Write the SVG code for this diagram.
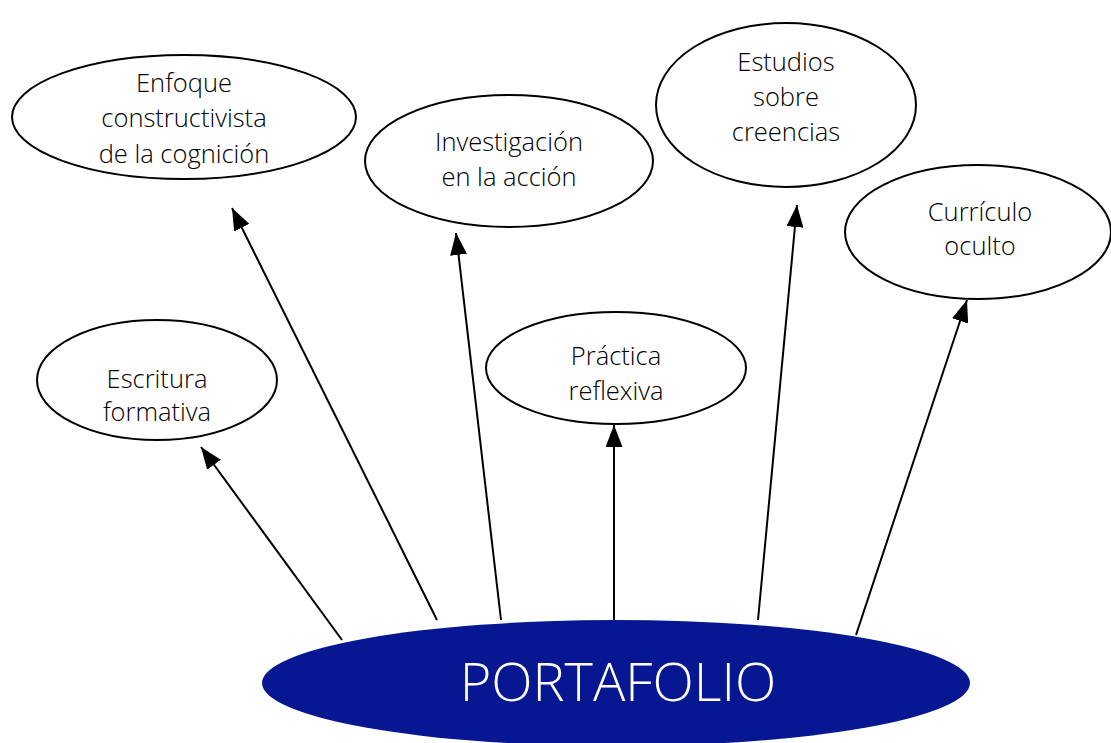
<svg xmlns="http://www.w3.org/2000/svg" width="1111" height="743" viewBox="0 0 1111 743">
<style>
.n{fill:#fff;stroke:#000;stroke-width:2}
.t{font-family:"Open Sans","DejaVu Sans",sans-serif;font-size:25.5px;font-weight:300;fill:#000;text-anchor:middle}
.c{stroke:#000;stroke-width:2;fill:none;marker-end:url(#ah)}
</style>
<defs>
<marker id="ah" viewBox="0 0 22 17" refX="22" refY="8.5" markerWidth="11" markerHeight="8.5" orient="auto" markerUnits="strokeWidth">
<path d="M0,0 L22,8.5 L0,17 z" fill="#000"/>
</marker>
</defs>
<rect width="1111" height="743" fill="#fff"/>
<g id="connectors">
<line class="c" x1="342" y1="640" x2="201" y2="447"/>
<line class="c" x1="437" y1="620" x2="232" y2="208"/>
<line class="c" x1="501" y1="620" x2="456" y2="233"/>
<line class="c" x1="614" y1="620" x2="614" y2="425"/>
<line class="c" x1="758" y1="620" x2="797" y2="205"/>
<line class="c" x1="856" y1="635" x2="967" y2="300"/>
</g>
<g id="enfoque">
<ellipse class="n" cx="184" cy="117" rx="172" ry="62"/>
<text class="t" x="184" y="92">Enfoque</text>
<text class="t" x="184" y="127">constructivista</text>
<text class="t" x="184" y="163">de la cognición</text>
</g>
<g id="investigacion">
<ellipse class="n" cx="509" cy="161" rx="144" ry="66"/>
<text class="t" x="509" y="151">Investigación</text>
<text class="t" x="509" y="186">en la acción</text>
</g>
<g id="estudios">
<ellipse class="n" cx="786" cy="105" rx="130" ry="82"/>
<text class="t" x="786" y="71">Estudios</text>
<text class="t" x="786" y="106">sobre</text>
<text class="t" x="786" y="141">creencias</text>
</g>
<g id="curriculo">
<ellipse class="n" cx="978" cy="232" rx="133" ry="67"/>
<text class="t" x="980" y="221">Currículo</text>
<text class="t" x="980" y="255">oculto</text>
</g>
<g id="escritura">
<ellipse class="n" cx="157" cy="380" rx="120" ry="60"/>
<text class="t" x="157" y="388">Escritura</text>
<text class="t" x="157" y="421">formativa</text>
</g>
<g id="practica">
<ellipse class="n" cx="616" cy="368" rx="130" ry="56"/>
<text class="t" x="616" y="365">Práctica</text>
<text class="t" x="616" y="400">reflexiva</text>
</g>
<g id="portafolio">
<ellipse cx="616" cy="683" rx="354" ry="63" fill="#061791"/>
<text x="618" y="701" font-family="'Open Sans','DejaVu Sans',sans-serif" font-size="54" font-weight="300" fill="#fff" text-anchor="middle">PORTAFOLIO</text>
</g>
</svg>
